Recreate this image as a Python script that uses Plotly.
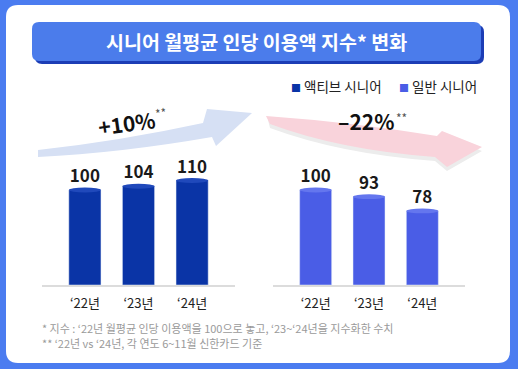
import plotly.graph_objects as go

W, H = 518, 369

# ---- data ----
years = ["‘22년", "‘23년", "‘24년"]
active = [100, 104, 110]
general = [100, 93, 78]
series_names = ["액티브 시니어", "일반 시니어"]
changes = ["+10%", "–22%"]
title_text = "시니어 월평균 인당 이용액 지수* 변화"
notes = [
    "* 지수 : ‘22년 월평균 인당 이용액을 100으로 놓고, ‘23~‘24년을 지수화한 수치",
    "** ‘22년 vs ‘24년, 각 연도 6~11월 신한카드 기준",
]

# ---- style ----
BG = "#4b7cf0"
ACTIVE_C = "#0a34a6"
ACTIVE_CAP = "#2049bb"
GENERAL_C = "#4a5de6"
GENERAL_CAP = "#6476ee"
FONT = "Noto Sans CJK KR"


def px(x, y):
    return x / W, 1 - y / H


def path(cmds):
    out = []
    for c in cmds:
        op, pts = c[0], c[1:]
        s = op
        for (x, y) in pts:
            u, v = px(x, y)
            s += f" {u:.5f},{v:.5f}"
        out.append(s)
    return " ".join(out)


def rrect(x0, y0, x1, y1, r):
    return path([
        ("M", (x0 + r, y0)), ("L", (x1 - r, y0)), ("Q", (x1, y0), (x1, y0 + r)),
        ("L", (x1, y1 - r)), ("Q", (x1, y1), (x1 - r, y1)),
        ("L", (x0 + r, y1)), ("Q", (x0, y1), (x0, y1 - r)),
        ("L", (x0, y0 + r)), ("Q", (x0, y0), (x0 + r, y0)), ("Z",),
    ])


fig = go.Figure()

fig.add_trace(go.Bar(
    x=years, y=active, name=series_names[0], marker_color=ACTIVE_C,
    width=0.6, text=[str(v) for v in active], textposition="outside",
    textfont=dict(size=17, color="#1a1a1a", family=FONT, weight=600), cliponaxis=False,
    xaxis="x", yaxis="y", showlegend=False, hoverinfo="skip",
))
fig.add_trace(go.Bar(
    x=years, y=general, name=series_names[1], marker_color=GENERAL_C,
    width=0.6, text=[str(v) for v in general], textposition="outside",
    textfont=dict(size=17, color="#1a1a1a", family=FONT, weight=600), cliponaxis=False,
    xaxis="x2", yaxis="y2", showlegend=False, hoverinfo="skip",
))

shapes = []
# white panel
shapes.append(dict(type="path", xref="paper", yref="paper", layer="below",
                   path=rrect(6, 5, 510, 363, 12), fillcolor="white", line_width=0))
# title box shadow + box
shapes.append(dict(type="path", xref="paper", yref="paper", layer="below",
                   path=rrect(35, 25, 484, 64, 7), fillcolor="#1c3db5", line_width=0))
shapes.append(dict(type="path", xref="paper", yref="paper", layer="below",
                   path=rrect(32, 22, 481, 61, 7), fillcolor="#4b7ceb", line_width=0))
# left (rising) arrow
shapes.append(dict(type="path", xref="paper", yref="paper", layer="below",
                   path=path([("M", (38, 150)), ("Q", (120, 141), (203, 123)),
                              ("L", (207, 109)), ("L", (252, 113)), ("L", (216, 146)),
                              ("L", (212, 137)), ("Q", (120, 153), (38, 157)), ("Z",)]),
                   fillcolor="#d6e0f4", line_width=0))
# right (falling) arrow shadow + arrow
shapes.append(dict(type="path", xref="paper", yref="paper", layer="below",
                   path=path([("M", (268, 120)), ("Q", (350, 126), (437, 140)),
                              ("L", (442, 135)), ("L", (482, 151)), ("L", (447, 171)),
                              ("L", (435, 161)), ("Q", (340, 154), (270, 128)), ("Z",)]),
                   fillcolor="#ececec", line_width=0))
shapes.append(dict(type="path", xref="paper", yref="paper", layer="below",
                   path=path([("M", (266, 116)), ("Q", (350, 122), (437, 136)),
                              ("L", (442, 131)), ("L", (482, 147)), ("L", (447, 167)),
                              ("L", (435, 157)), ("Q", (340, 150), (270, 124)), ("Z",)]),
                   fillcolor="#f9d3db", line_width=0))
# cylinder caps
for i, v in enumerate(active):
    shapes.append(dict(type="circle", xref="x", yref="y", x0=i - 0.3, x1=i + 0.3,
                       y0=v - 2.6, y1=v + 2.6, fillcolor=ACTIVE_CAP, line_width=0))
for i, v in enumerate(general):
    shapes.append(dict(type="circle", xref="x2", yref="y2", x0=i - 0.3, x1=i + 0.3,
                       y0=v - 2.6, y1=v + 2.6, fillcolor=GENERAL_CAP, line_width=0))

annotations = []


def note(x, y, text, size, color, xanchor="center", **kw):
    ax, ay = px(x, y)
    annotations.append(dict(x=ax, y=ay, xref="paper", yref="paper", showarrow=False,
                            xanchor=xanchor, yanchor="middle", text=text,
                            font=dict(size=size, color=color, family=FONT), **kw))


note(256, 42, f"<b>{title_text}</b>", 19.5, "white")
# legend
note(289, 86, f"<span style='color:{ACTIVE_C};font-size:10px'>■</span> {series_names[0]}",
     13.5, "#222", xanchor="left")
note(397, 86, f"<span style='color:{GENERAL_C};font-size:10px'>■</span> {series_names[1]}",
     13.5, "#222", xanchor="left")
# change labels
note(126, 123, f"<b>{changes[0]}</b>", 21, "#111", textangle=-8)
note(160, 112, "**", 12, "#555", textangle=-8)
note(366, 121, f"<b>{changes[1]}</b>", 21, "#111")
note(401, 117, "**", 12, "#555")
# footnotes
note(40, 328, notes[0], 11, "#9a9a9a", xanchor="left")
note(40, 343, notes[1], 11, "#9a9a9a", xanchor="left")

ydom = [1 - 285 / H, 1 - 100 / H]
yrange = [0, (285 - 100) / 0.95]
xcommon = dict(type="category", range=[-0.8, 2.8], showline=True, linecolor="#dcdcdc",
               linewidth=1.5, ticks="outside", ticklen=6, tickcolor="rgba(0,0,0,0)",
               tickfont=dict(size=13, color="#222", family=FONT), showgrid=False,
               zeroline=False, fixedrange=True)
ycommon = dict(range=yrange, domain=ydom, visible=False, showgrid=False, zeroline=False,
               fixedrange=True)

fig.update_layout(
    width=W, height=H, margin=dict(l=0, r=0, t=0, b=0),
    paper_bgcolor=BG, plot_bgcolor="rgba(0,0,0,0)",
    font=dict(family=FONT),
    xaxis=dict(domain=[42 / W, 235 / W], anchor="y", **xcommon),
    yaxis=dict(anchor="x", **ycommon),
    xaxis2=dict(domain=[273 / W, 465 / W], anchor="y2", **xcommon),
    yaxis2=dict(anchor="x2", **ycommon),
    shapes=shapes, annotations=annotations, showlegend=False, bargap=0.4,
)

fig.write_html("out.html", config={"displayModeBar": False},
               post_script="document.body.style.margin='0';")
